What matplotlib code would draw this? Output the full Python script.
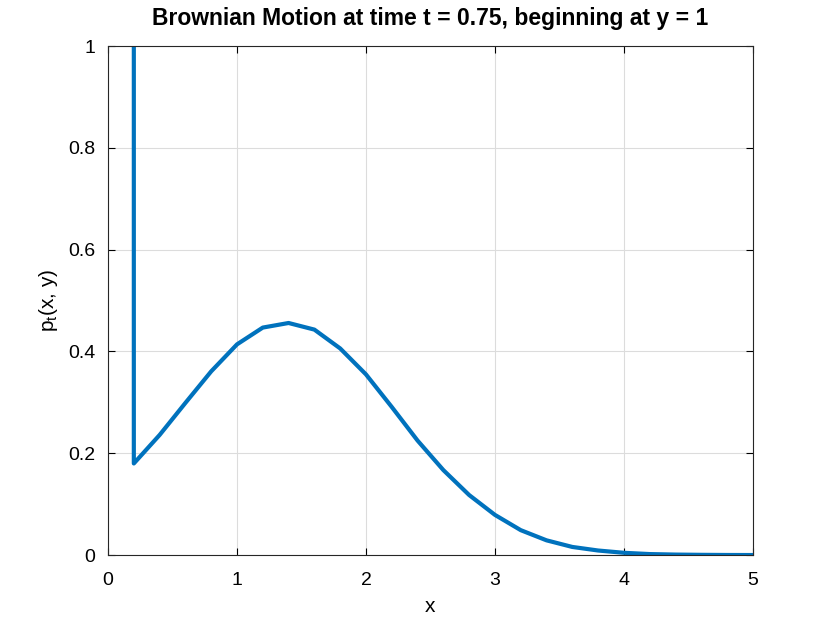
import matplotlib
matplotlib.use('Agg')
import matplotlib.pyplot as plt

# sample points (x = 0.2:0.2:5, first point repeated for the spike at x=0.2)
x = [0.2, 0.2, 0.4, 0.6, 0.8, 1.0, 1.2, 1.4, 1.6, 1.8, 2.0, 2.2, 2.4, 2.6,
     2.8, 3.0, 3.2, 3.4, 3.6, 3.8, 4.0, 4.2, 4.4, 4.6, 4.8, 5.0]
p = [1.5, 0.180, 0.236, 0.299, 0.361, 0.414, 0.447, 0.456, 0.443, 0.406,
     0.355, 0.291, 0.225, 0.167, 0.118, 0.079, 0.049, 0.029, 0.016, 0.009,
     0.0045, 0.002, 0.001, 0.0005, 0.0002, 0.0001]

xticks = [0, 1, 2, 3, 4, 5]
yticks = [0, 0.2, 0.4, 0.6, 0.8, 1]
ytick_labels = ['0', '0.2', '0.4', '0.6', '0.8', '1']

plt.rcParams['font.family'] = ['Liberation Sans', 'DejaVu Sans']
plt.rcParams['mathtext.fontset'] = 'custom'
plt.rcParams['mathtext.rm'] = 'Liberation Sans'

fig = plt.figure(figsize=(8.31, 6.23), dpi=100)
ax = fig.add_axes([0.130, 0.109, 0.776, 0.817])

ax.plot(x, p, color='#0072BD', linewidth=3)

ax.set_xlim(0, 5)
ax.set_ylim(0, 1)
ax.set_xticks(xticks)
ax.set_yticks(yticks)
ax.set_yticklabels(ytick_labels)
ax.tick_params(direction='in', top=True, right=True, length=5,
               labelsize=14, width=0.8)
ax.tick_params(axis='x', pad=12)
ax.tick_params(axis='y', pad=9)
ax.grid(True, color='#dcdcdc', linewidth=0.8)
ax.set_axisbelow(True)
for s in ax.spines.values():
    s.set_linewidth(0.8)
    s.set_color('#262626')

ax.set_xlabel('x', fontsize=15, labelpad=6)
ax.set_ylabel(r'p$_{\mathrm{t}}$(x, y)', fontsize=15, labelpad=6)
ax.set_title('Brownian Motion at time t = 0.75, beginning at y = 1',
             fontsize=16.5, fontweight='bold', pad=15)

fig.savefig('out.png', dpi=100)
